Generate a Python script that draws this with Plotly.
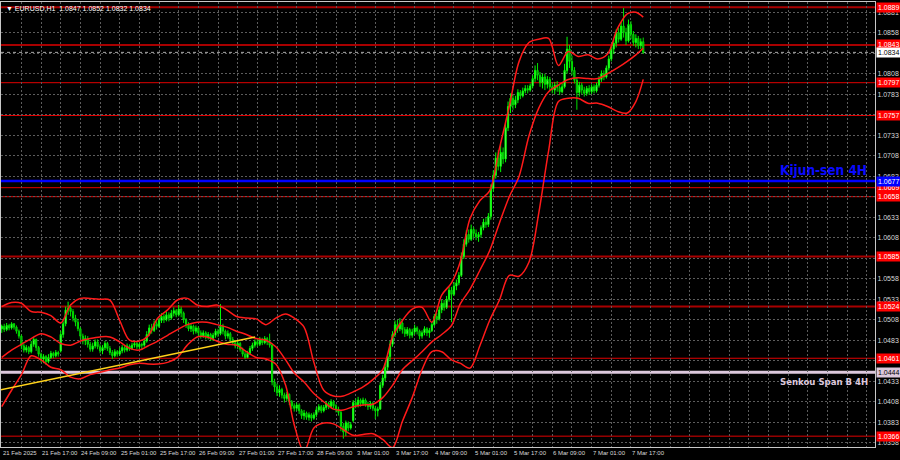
import plotly.graph_objects as go

# ---------------- DATA (prices in 1/10000 units) ----------------
open_p = [
10497,10500,10496,10501,10498,10503,10499,10494,10488,10476,
10471,10474,10469,10478,10484,10474,10466,10460,10463,10457,
10462,10467,10464,10468,10470,10490,10503,10520,10522,10518,
10510,10505,10497,10488,10482,10485,10478,10472,10476,10481,
10475,10470,10474,10479,10473,10468,10464,10469,10466,10470,
10474,10471,10476,10473,10477,10479,10475,
10478,10477,
10482,10490,10498,10495,10503,10500,10507,10512,10508,10514,
10510,10516,10519,10514,10521,10516,10508,10502,10497,10500,
10494,10498,10492,10488,10492,10487,10490,10485,10489,10494,
10491,10500,10494,10488,10491,10484,10480,10476,10479,10472,
10466,10462,10467,10473,10477,10481,10478,10484,10480,10485,
10481,10477,10432,10426,10419,10423,10416,10412,10417,10408,
10403,10400,10404,10397,10391,10394,10389,10392,10388,10392,
10398,10402,10397,10401,10406,10402,10408,10403,10399,10395,
10378,10371,10382,10376,10385,10407,10404,10410,10406,10410,
10405,10402,10406,10400,10397,10399,10428,10437,10450,10463,
10478,10490,10502,10497,10504,10496,10491,10496,10489,10493,
10498,10494,10488,10492,10497,
10492,10495,10502,10512,
10509,10520,10528,10523,10533,10544,10539,10549,10553,10562,
10585,10600,10612,10606,10618,10613,10609,10612,10620,10627,
10624,10634,10668,10684,10705,10695,10712,10704,10742,10768,
10778,10770,10776,10785,10781,10787,10790,10788,10793,10802,
10812,10806,10797,10804,10795,10801,10792,10788,10794,10791,
10786,10792,10812,10838,10823,10812,10800,10785,10794,10788,
10784,10790,10786,10792,10787,10794,10801,10808,10804,10815,
10826,10838,10845,10858,10850,10866,10858,10848,10868,10856,
10846,10851,10842,10847]

high_p = [
10502,10503,10504,10503,10505,10504,10501,10496,10490,10479,
10477,10476,10482,10487,10485,10476,10468,10466,10465,10466,
10470,10469,10471,10470,10494,10506,10524,10530,10527,10521,
10514,10509,10499,10491,10489,10488,10481,10480,10484,10484,
10478,10477,10482,10481,10476,10471,10472,10471,10474,10477,
10477,10479,10478,10480,10482,10481,10480,
10480,10485,
10494,10502,10503,10507,10506,10510,10516,10515,10518,10517,
10520,10523,10521,10526,10524,10518,10510,10505,10503,10502,
10501,10500,10495,10495,10494,10493,10492,10492,10497,10497,
10527,10503,10496,10495,10493,10487,10483,10482,10481,10474,
10469,10470,10476,10480,10484,10485,10487,10486,10488,10487,
10491,10479,10436,10430,10428,10425,10419,10420,10418,10410,
10406,10407,10406,10399,10398,10396,10395,10394,10395,10401,
10405,10404,10404,10409,10408,10411,10410,10405,10402,10397,
10382,10385,10384,10383,10410,10412,10414,10412,10413,10412,
10408,10409,10408,10403,10402,10432,10441,10455,10467,10482,
10494,10507,10508,10510,10506,10499,10499,10498,10497,10502,
10500,10496,10495,10500,10499,
10498,10505,10515,10516,
10524,10532,10532,10537,10548,10548,10554,10557,10566,10590,
10606,10617,10618,10624,10621,10618,10615,10623,10631,10632,
10638,10673,10690,10712,10715,10722,10718,10748,10774,10784,
10782,10781,10789,10788,10791,10794,10794,10796,10806,10818,
10821,10810,10808,10808,10805,10804,10796,10798,10799,10795,
10796,10820,10853,10843,10830,10816,10804,10798,10797,10792,
10793,10794,10795,10795,10797,10805,10812,10812,10818,10830,
10842,10850,10862,10864,10871,10888,10864,10874,10872,10860,
10856,10854,10851,10852]

low_p = [
10492,10493,10494,10495,10496,10496,10491,10485,10472,10468,
10468,10466,10467,10475,10470,10463,10456,10455,10453,10455,
10460,10461,10462,10463,10468,10486,10500,10514,10512,10506,
10500,10494,10485,10478,10477,10474,10469,10469,10473,10472,
10467,10466,10471,10470,10465,10460,10462,10463,10464,10467,
10468,10469,10470,10471,10474,10472,10472,
10471,10475,
10480,10488,10491,10493,10496,10498,10504,10504,10506,10506,
10508,10512,10511,10512,10511,10504,10498,10494,10493,10490,
10491,10488,10485,10486,10484,10484,10482,10482,10486,10487,
10489,10490,10484,10485,10481,10477,10473,10472,10469,10463,
10460,10461,10465,10470,10474,10475,10476,10477,10478,10477,
10474,10428,10420,10415,10414,10412,10407,10409,10404,10399,
10396,10397,10393,10387,10386,10386,10385,10384,10386,10389,
10395,10394,10395,10398,10399,10400,10400,10395,10391,10372,
10363,10366,10372,10374,10383,10400,10401,10402,10403,10402,
10398,10399,10397,10387,10390,10398,10425,10433,10446,10458,
10475,10487,10492,10494,10491,10487,10488,10485,10486,10490,
10490,10484,10485,10489,10488,
10486,10493,10500,10503,
10507,10516,10519,10521,10530,10505,10537,10544,10550,10560,
10582,10597,10602,10604,10608,10605,10603,10608,10617,10620,
10621,10630,10664,10680,10690,10688,10698,10700,10738,10760,
10764,10766,10772,10777,10779,10784,10784,10786,10790,10798,
10800,10792,10790,10788,10790,10786,10784,10783,10786,10782,
10784,10790,10808,10815,10806,10796,10764,10780,10783,10780,
10781,10782,10783,10784,10785,10791,10798,10800,10802,10812,
10823,10832,10840,10846,10848,10852,10843,10846,10850,10842,
10840,10838,10838,10832]

close_p = [
10500,10496,10501,10498,10503,10499,10494,10488,10476,10471,
10474,10469,10478,10484,10474,10466,10460,10463,10457,10462,
10467,10464,10468,10466,10490,10503,10520,10522,10518,10510,
10505,10497,10488,10482,10485,10478,10472,10476,10481,10475,
10470,10474,10479,10473,10468,10464,10469,10466,10470,10474,
10471,10476,10473,10477,10479,10475,10478,
10477,10482,
10490,10498,10495,10503,10500,10507,10512,10508,10514,10510,
10516,10519,10514,10521,10516,10508,10502,10497,10500,10494,
10498,10492,10488,10492,10487,10490,10485,10489,10494,10491,
10500,10494,10488,10491,10484,10480,10476,10479,10472,10466,
10462,10467,10473,10477,10481,10478,10484,10480,10485,10481,
10477,10432,10426,10419,10423,10416,10412,10417,10408,10403,
10400,10404,10397,10391,10394,10389,10392,10388,10392,10398,
10402,10397,10401,10406,10402,10408,10403,10399,10395,10378,
10371,10382,10376,10380,10407,10404,10410,10406,10410,10405,
10402,10406,10400,10397,10399,10428,10437,10450,10463,10478,
10490,10502,10497,10504,10496,10491,10496,10489,10493,10498,
10494,10488,10492,10497,10492,
10495,10502,10512,10509,
10520,10528,10523,10533,10544,10539,10549,10553,10562,10585,
10600,10612,10606,10618,10613,10609,10612,10620,10627,10624,
10634,10668,10684,10705,10695,10712,10704,10742,10768,10778,
10770,10776,10785,10781,10787,10790,10788,10793,10802,10812,
10806,10797,10804,10795,10801,10792,10788,10794,10791,10786,
10792,10812,10838,10823,10812,10800,10785,10794,10788,10784,
10790,10786,10792,10787,10794,10801,10808,10804,10815,10826,
10838,10845,10858,10850,10866,10858,10848,10868,10856,10846,
10851,10842,10847,10834]

# Bollinger-type band samples (bar index positions and values)
band_idx = [0,4,8,12,16,20,24,28,32,36,40,44,48,52,56,59.5,63.5,67.5,71.5,75.5,
            79.5,83.5,87.5,91.5,95.5,99.5,103.5,107.5,111.5,115.5,119,123,127,131,135,139,
            143,147,151,155,159,163,167,171,175,179,183,186.5,190.5,194.5,198.5,202.5,
            206.5,210.5,214.5,218.5,222.5,226.5,230.5,234.5,238.5,242.5,246.5,250.5,
            254.5,258,261]
band_upper = [10524,10529,10528,10518,10517,10513,10504,10526,10534,10534,
              10533,10532,10507,10483,10482,10488,10510,10520,10532,10534,
              10526,10524,10526,10520,10512,10510,10509,10502,10510,10515,
              10510,10499,10456,10422,10415,10415,10420,10426,10435,10447,
              10487,10507,10521,10523,10505,10538,10553,10578,10631,10653,
              10665,10717,10768,10823,10846,10850,10851,10818,10835,10829,
              10831,10826,10832,10863,10881,10883,10877]
band_middle = [10462,10471,10478,10485,10491,10487,10479,10477,10482,10485,
               10487,10487,10481,10473,10471,10476,10482,10489,10496,10502,
               10505,10505,10502,10499,10494,10490,10485,10483,10475,10459,
               10443,10432,10418,10408,10399,10398,10402,10404,10405,10413,
               10428,10447,10458,10469,10481,10490,10501,10527,10545,10568,
               10592,10626,10658,10683,10732,10766,10786,10794,10801,10803,
               10802,10802,10808,10815,10823,10831,10839]
band_lower = [10402,10422,10441,10464,10459,10450,10447,10438,10436,10441,
              10444,10447,10449,10453,10455,10454,10454,10456,10462,10477,
              10487,10487,10482,10478,10477,10469,10462,10460,10454,10428,
              10380,10347,10376,10382,10381,10374,10367,10368,10369,10362,
              10352,10384,10413,10447,10469,10469,10459,10455,10449,10476,
              10507,10532,10562,10561,10578,10638,10714,10774,10778,10778,
              10772,10772,10768,10762,10760,10774,10801]

trend_idx = [-0.7, 103.1]
trend_val = [1.04223, 1.04869]

levels = [1.0889, 1.0843, 1.0797, 1.0757, 1.0669, 1.0658, 1.0585, 1.0524, 1.0461, 1.0366]
kijun_4h = 1.0677
senkou_b_4h = 1.0444

x_tick_idx = [0,16,32,48,64,80,96,112,128,144,160,176,192,208,224,240,256]
x_tick_text = ["21 Feb 2025","21 Feb 17:00","24 Feb 09:00","25 Feb 01:00","25 Feb 17:00",
               "26 Feb 09:00","27 Feb 01:00","27 Feb 17:00","28 Feb 09:00","3 Mar 01:00",
               "3 Mar 17:00","4 Mar 09:00","5 Mar 01:00","5 Mar 17:00","6 Mar 09:00",
               "7 Mar 01:00","7 Mar 17:00"]
y_tick_vals = [1.0358,1.0383,1.0408,1.0433,1.0458,1.0483,1.0508,1.0533,1.0558,1.0583,
               1.0608,1.0633,1.0658,1.0683,1.0708,1.0733,1.0758,1.0783,1.0808,1.0833,
               1.0858,1.0883]
# labels hidden behind the price boxes in the reference are left blank
y_tick_text = ["1.0358","1.0383","1.0408","1.0433","","1.0483","1.0508","1.0533",
               "1.0558","","1.0608","1.0633","","1.0683","1.0708","1.0733",
               "","1.0783","1.0808","","1.0858","1.0881"]

# ---------------- BUILD ----------------
S = 10000.0
o = [v / S for v in open_p]
h = [v / S for v in high_p]
l = [v / S for v in low_p]
c = [v / S for v in close_p]
idx = list(range(len(c)))
bu = [v / S for v in band_upper]
bm = [v / S for v in band_middle]
bl = [v / S for v in band_lower]

FONT = "'Liberation Sans', Arial, sans-serif"
BOLD_FONT = "'DejaVu Sans Condensed', 'Liberation Sans Narrow', 'Liberation Sans', sans-serif"
level_thick = {1.0889, 1.0843, 1.0585, 1.0524}

fig = go.Figure()

for band in (bu, bm, bl):
    fig.add_trace(go.Scatter(x=band_idx, y=band, mode="lines",
                             line=dict(color="#ff1a1a", width=1.5, shape="spline", smoothing=0.9),
                             hoverinfo="skip", showlegend=False))

fig.add_trace(go.Scatter(x=trend_idx, y=trend_val, mode="lines",
                         line=dict(color="#ffd21a", width=1.5), hoverinfo="skip", showlegend=False))

fig.add_trace(go.Candlestick(
    x=idx, open=o, high=h, low=l, close=c, whiskerwidth=0,
    increasing=dict(line=dict(color="#00ff00", width=1), fillcolor="#b4ffb4"),
    decreasing=dict(line=dict(color="#00e000", width=1), fillcolor="#007a00"),
    showlegend=False))

shapes = []
for lv in levels:
    thick = lv in level_thick
    shapes.append(dict(type="line", xref="paper", x0=0, x1=1, yref="y", y0=lv, y1=lv,
                       line=dict(color="#a80000" if thick else "#e00000", width=2 if thick else 1),
                       layer="below"))
shapes.append(dict(type="line", xref="paper", x0=0, x1=1, yref="y", y0=kijun_4h, y1=kijun_4h,
                   line=dict(color="#0000ff", width=2.5), layer="below"))
shapes.append(dict(type="line", xref="paper", x0=0, x1=1, yref="y", y0=senkou_b_4h, y1=senkou_b_4h,
                   line=dict(color="#dcc8dc", width=3), layer="below"))
shapes.append(dict(type="line", xref="paper", x0=0, x1=1, yref="y", y0=c[-1], y1=c[-1],
                   line=dict(color="#a8a8a8", width=1, dash="dot"), layer="below"))

ann = []
for lv in levels:
    ann.append(dict(x=1, xref="paper", xanchor="left", xshift=1, y=lv, yref="y",
                    text=f"{lv:.4f}", showarrow=False, bgcolor="#ff0000", borderpad=1,
                    font=dict(family=FONT, size=7, color="#ffffff")))
ann.append(dict(x=1, xref="paper", xanchor="left", xshift=1, y=kijun_4h, yref="y",
                text=f"{kijun_4h:.4f}", showarrow=False, bgcolor="#0000ff", borderpad=1,
                font=dict(family=FONT, size=7, color="#ffffff")))
ann.append(dict(x=1, xref="paper", xanchor="left", xshift=1, y=senkou_b_4h, yref="y",
                text=f"{senkou_b_4h:.4f}", showarrow=False, bgcolor="#dcc8dc", borderpad=1,
                font=dict(family=FONT, size=7, color="#000000")))
ann.append(dict(x=1, xref="paper", xanchor="left", xshift=1, y=c[-1], yref="y",
                text=f"{c[-1]:.4f}", showarrow=False, bgcolor="#ffffff", borderpad=1,
                font=dict(family=FONT, size=7, color="#000000")))
ann.append(dict(x=1, xref="paper", xanchor="right", xshift=-6, y=kijun_4h, yref="y",
                yanchor="bottom", yshift=1, text="Kijun-sen 4H", showarrow=False,
                font=dict(family=BOLD_FONT, size=13.5, color="#0a0aff", weight="bold")))
ann.append(dict(x=1, xref="paper", xanchor="right", xshift=-5, y=senkou_b_4h, yref="y",
                yanchor="top", yshift=-2, text="Senkou Span B 4H", showarrow=False,
                font=dict(family=BOLD_FONT, size=9.5, color="#dcc8dc", weight="bold")))
for xi, tx in zip(x_tick_idx, x_tick_text):
    ann.append(dict(x=xi, xref="x", xanchor="left", y=0, yref="paper", yanchor="top",
                    yshift=-1, xshift=-1, text=tx, showarrow=False,
                    font=dict(family=FONT, size=6, color="#d8d8d8")))
ann.append(dict(x=0, xref="paper", xanchor="left", xshift=3, y=1, yref="paper",
                yanchor="top", yshift=-1,
                text=f"▼ EURUSD,H1  {o[-1]:.4f} {h[-1]:.4f} {l[-1]:.4f} {c[-1]:.4f}",
                showarrow=False, font=dict(family=FONT, size=7, color="#ffffff")))

fig.update_layout(
    width=900, height=460,
    margin=dict(l=1, r=25, t=2, b=13, autoexpand=False),
    paper_bgcolor="#000000", plot_bgcolor="#000000",
    shapes=shapes, annotations=ann, showlegend=False,
    xaxis=dict(range=[-0.3, 355.3], rangeslider=dict(visible=False), automargin=False,
               showgrid=True, gridcolor="#5c5c5c", griddash="2px,2px", gridwidth=1,
               tick0=0, dtick=8, showticklabels=False, ticks="", zeroline=False,
               showline=True, mirror=True, linecolor="#c8c8c8", linewidth=1),
    yaxis=dict(range=[1.03528, 1.08954], side="right", automargin=False,
               tickvals=y_tick_vals, ticktext=y_tick_text,
               tickfont=dict(family=FONT, size=7, color="#d8d8d8"),
               showgrid=True, gridcolor="#5c5c5c", griddash="2px,2px", gridwidth=1,
               ticks="", zeroline=False,
               showline=True, mirror=True, linecolor="#c8c8c8", linewidth=1),
)

fig.write_html("out.html", config={"displayModeBar": False},
               post_script="document.body.style.margin='0px';document.body.style.background='#000';")
